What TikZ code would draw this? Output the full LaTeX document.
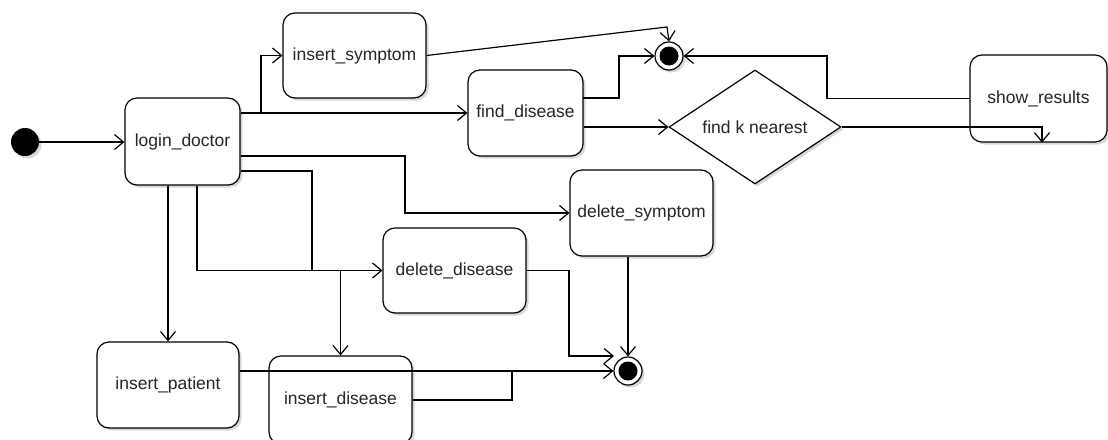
\documentclass[tikz,border=0pt]{standalone}
\usepackage{fontspec}
\setmainfont{Liberation Sans}
\usetikzlibrary{arrows.meta,shapes.geometric,shadows}
\begin{document}
\begin{tikzpicture}[x=1pt,y=-1pt,
  every node/.style={font=\fontsize{17.5}{20}\selectfont, text=black!85},
  shade/.style={drop shadow={shadow xshift=2.5pt,shadow yshift=-2.5pt,fill=black!35,opacity=0.45}},
  state/.style={draw, rounded corners=12pt, fill=white, line width=1.2pt, inner sep=0pt, shade},
  decision/.style={diamond, shape aspect=1.5, draw, fill=white, line width=1.2pt, inner sep=0pt, shade},
  startdot/.style={circle, fill=black, minimum size=28pt, inner sep=0pt, shade},
  enddot/.style={circle, draw, line width=1.2pt, fill=white, minimum size=28pt, inner sep=0pt, shade,
    path picture={\fill[black] (path picture bounding box.center) circle (9.5pt);}},
  arr/.style={line width=1.2pt, -{Straight Barb[length=9pt,width=15pt]}},
  ln/.style={line width=1.2pt}
]
\useasboundingbox (0,0) rectangle (1108,439);

% states
\node[startdot] (init) at (25,142) {};
\node[state, minimum width=115pt, minimum height=87pt] (login) at (182.5,141.5) {login\_doctor};
\node[state, minimum width=143pt, minimum height=85pt] (insym) at (354.5,55.5) {insert\_symptom};
\node[state, minimum width=115pt, minimum height=86pt] (findd) at (525.5,113) {find\_disease};
\node[decision, minimum width=172pt, minimum height=114pt] (knear) at (755,127) {find k nearest};
\node[state, minimum width=137pt, minimum height=87pt] (showr) at (1038.5,98.5) {show\_results};
\node[state, minimum width=143pt, minimum height=86pt] (delsym) at (641.5,213) {delete\_symptom};
\node[state, minimum width=143pt, minimum height=85pt] (deldis) at (454.5,270.5) {delete\_disease};
\node[state, minimum width=142pt, minimum height=86pt] (inpat) at (168,385) {insert\_patient};
\node[state, minimum width=143pt, minimum height=88pt] (indis) at (340.5,400) {insert\_disease};
\node[enddot] (endA) at (669,56) {};
\node[enddot] (endB) at (628,371) {};

% routing points
\coordinate (splitSym) at (261,113);
\coordinate (kinkA) at (667,27);
\coordinate (fdOut) at (583,98);
\coordinate (fdTurn) at (619,98);
\coordinate (srTurn) at (1042,127);
\coordinate (shTurn) at (827,0);
\coordinate (dsTurn) at (405,156);
\coordinate (ddTurn) at (312,171);
\coordinate (ddJoin) at (312,270.5);
\coordinate (ldDown) at (197,0);
\coordinate (idSplit) at (340.5,270.5);
\coordinate (ddOut) at (569,270.5);
\coordinate (ddIn) at (614,356);
\coordinate (idOut) at (512,400);

% transitions
\draw[arr] (init.east) -- (init.east -| login.west);
\draw[arr] (login.east |- findd.west) -- (findd.west);
\draw[arr] (splitSym) |- (insym.west);
\draw[arr] (insym.east) -- (kinkA) -- (endA.north);
\draw[arr] (fdOut) -- (fdTurn) |- (endA.west);
\draw[arr] (findd.east |- knear.west) -- (knear.west);
\draw[arr] (knear.east) -- (srTurn) -- (srTurn |- showr.south);
\draw[arr] (showr.west) -- (showr.west -| shTurn) |- (endA.east);
\draw[arr] (login.east |- dsTurn) -- (dsTurn) |- (delsym.west);
\draw[ln] (login.east |- ddTurn) -- (ddTurn) -- (ddJoin);
\draw[arr] (login.south -| ldDown) |- (deldis.west);
\draw[arr] (idSplit) -- (indis.north);
\draw[arr] (login.south -| inpat.north) -- (inpat.north);
\draw[arr] (endB.north |- delsym.south) -- (endB.north);
\draw[arr] (deldis.east) -- (ddOut) |- (ddIn);
\draw[arr] (inpat.east |- endB.west) -- (endB.west);
\draw[ln] (indis.east |- idOut) -- (idOut) |- (endB.west);
\end{tikzpicture}
\end{document}
